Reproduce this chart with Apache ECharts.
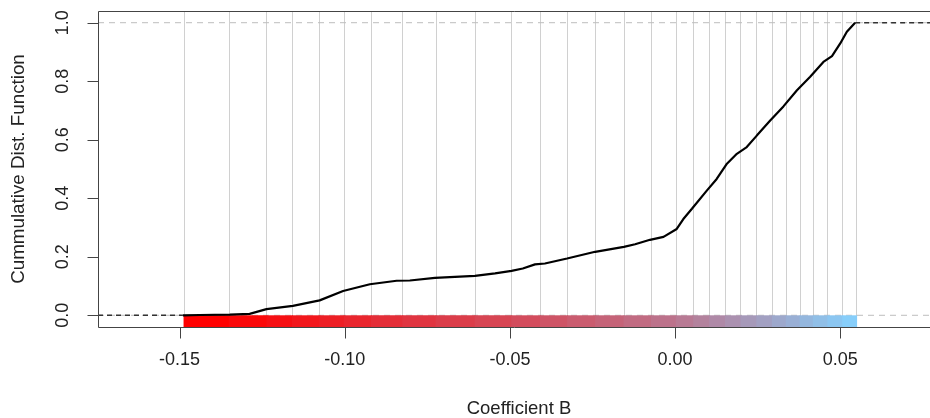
<!DOCTYPE html>
<html>
<head>
<meta charset="utf-8">
<script src="https://cdn.jsdelivr.net/npm/echarts@6/dist/echarts.min.js"></script>
<style>
html, body { margin: 0; padding: 0; background: #fff; }
#main { width: 930px; height: 418px; }
</style>
</head>
<body>
<div id="main"></div>
<script>
// ecdf curve
var cdfX = [-0.1490, -0.1439, -0.1348, -0.1288, -0.1237, -0.1157, -0.1076, -0.1005, -0.0924, -0.0843,
	-0.0803, -0.0727, -0.0606, -0.0545, -0.0495, -0.0461, -0.0424, -0.0394, -0.0327, -0.0242,
	-0.0155, -0.0121, -0.0076, -0.0035, 0.0005, 0.0025, 0.0051, 0.0096, 0.0126, 0.0157,
	0.0187, 0.0217, 0.0248, 0.0288, 0.0328, 0.0369, 0.0409, 0.0449, 0.0475, 0.0500,
	0.0520, 0.0545];
var cdfY = [0.000, 0.001, 0.002, 0.005, 0.021, 0.032, 0.051, 0.083, 0.106, 0.118,
	0.119, 0.128, 0.135, 0.143, 0.152, 0.160, 0.174, 0.177, 0.194, 0.217,
	0.234, 0.243, 0.258, 0.268, 0.295, 0.329, 0.364, 0.426, 0.466, 0.518,
	0.552, 0.575, 0.615, 0.666, 0.714, 0.769, 0.815, 0.866, 0.886, 0.929,
	0.969, 1.000];

// breaks of the coloured strip (also the grey vertical lines)
var breaks = [-0.1488, -0.1351, -0.1237, -0.1160, -0.1077, -0.1003, -0.0921, -0.0826, -0.0725, -0.0607,
	-0.0496, -0.0409, -0.0327, -0.0242, -0.0156, -0.0073, 0.0002, 0.0055, 0.0103, 0.0151,
	0.0198, 0.0246, 0.0293, 0.0335, 0.0377, 0.0417, 0.0461, 0.0506, 0.0548];

var xTicks = [-0.15, -0.10, -0.05, 0.00, 0.05];
var yTicks = [0.0, 0.2, 0.4, 0.6, 0.8, 1.0];
// plot box (R usr coordinates)
var xRange = [-0.1747, 0.0802];
var yRange = [-0.04, 1.04];

var font = 'Liberation Sans, Arial, sans-serif';
var tickLen = 11;
// box size in px, the grid gets tickLen extra on the left and bottom so ticks sit inside it
var boxW = 842, boxH = 316;
var xMinAxis = xRange[0] - tickLen * (xRange[1] - xRange[0]) / boxW;
var yMinAxis = yRange[0] - tickLen * (yRange[1] - yRange[0]) / boxH;

// red -> lightskyblue
function rampColor(i, n) {
	var t = n > 1 ? i / (n - 1) : 0;
	var a = [255, 0, 0], b = [135, 206, 250];
	var c = a.map(function (v, k) { return Math.round(v + (b[k] - v) * t); });
	return 'rgb(' + c.join(',') + ')';
}

var segs = [];
for (var i = 0; i < breaks.length - 1; i++) {
	segs.push([breaks[i], breaks[i + 1], i]);
}

var curve = cdfX.map(function (x, i) { return [x, cdfY[i]]; });

// tick marks: [x, y, which]  (0 = bottom axis, 1 = left axis)
var tickData = xTicks.map(function (v) { return [v, yRange[0], 0]; })
	.concat(yTicks.map(function (v) { return [xRange[0], v, 1]; }));

var myChart = echarts.init(document.getElementById('main'));
var option = {
	backgroundColor: '#ffffff',
	animation: false,
	grid: {
		left: 98 - tickLen, top: 11, right: -10, bottom: 91 - tickLen,
		outerBoundsMode: 'none',
		containLabel: false,
		show: false
	},
	xAxis: {
		type: 'value',
		position: 'bottom',
		min: xMinAxis, max: xRange[1],
		name: 'Coefficient B',
		nameLocation: 'middle',
		nameGap: 61,
		nameTextStyle: { color: '#222', fontSize: 18.5, fontFamily: font, padding: [0, 0, 0, 11] },
		axisLine: { show: false, onZero: false },
		splitLine: { show: false },
		axisTick: { show: false },
		axisLabel: {
			customValues: xTicks, margin: 13, color: '#222', fontSize: 18, fontFamily: font,
			formatter: function (v) { return v.toFixed(2); }
		}
	},
	yAxis: {
		type: 'value',
		position: 'left',
		min: yMinAxis, max: yRange[1],
		name: 'Cummulative Dist. Function',
		nameLocation: 'middle',
		nameRotate: 90,
		nameGap: 59,
		nameTextStyle: { color: '#222', fontSize: 18.8, fontFamily: font, padding: [0, 0, 0, 11] },
		axisLine: { show: false, onZero: false },
		splitLine: { show: false },
		axisTick: { show: false },
		axisLabel: {
			customValues: yTicks, rotate: 90, margin: 15, color: '#222', fontSize: 18, fontFamily: font,
			formatter: function (v) { return v.toFixed(1); }
		}
	},
	series: [
		{
			// grey vertical lines at the breaks
			type: 'custom',
			z: 1,
			silent: true,
			data: breaks.map(function (b) { return [b, 0.5]; }),
			renderItem: function (params, api) {
				var p0 = api.coord([api.value(0), yRange[1]]);
				var p1 = api.coord([api.value(0), yRange[0]]);
				var x = Math.round(p0[0]) + 0.5;
				return {
					type: 'line',
					shape: { x1: x, y1: p0[1], x2: x, y2: p1[1] },
					style: { stroke: '#d0d0d0', lineWidth: 1 }
				};
			}
		},
		{
			// dashed 0 / 1 reference lines across the box
			type: 'line',
			z: 2,
			silent: true,
			data: [[xRange[0], 0], [xRange[1], 0], null, [xRange[0], 1], [xRange[1], 1]],
			connectNulls: false,
			symbol: 'none',
			lineStyle: { color: '#bdbdbd', width: 1, type: [6, 5] }
		},
		{
			type: 'custom',
			z: 3,
			silent: true,
			data: segs,
			renderItem: function (params, api) {
				var p0 = api.coord([api.value(0), 0]);
				var p1 = api.coord([api.value(1), yRange[0]]);
				return {
					type: 'rect',
					shape: { x: p0[0], y: p0[1], width: p1[0] - p0[0] + 1, height: p1[1] - p0[1] },
					style: { fill: rampColor(api.value(2), segs.length), stroke: null }
				};
			}
		},
		{
			type: 'line',
			z: 4,
			data: [[xRange[0], 0], [cdfX[0], 0]],
			symbol: 'none',
			lineStyle: { color: '#333', width: 1.5, type: [5, 4] }
		},
		{
			type: 'line',
			z: 4,
			data: [[cdfX[cdfX.length - 1], 1], [xRange[1], 1]],
			symbol: 'none',
			lineStyle: { color: '#333', width: 1.5, type: [5, 4] }
		},
		{
			type: 'line',
			z: 5,
			data: curve,
			symbol: 'none',
			lineStyle: { color: '#000', width: 2.2 }
		},
		{
			// plot box
			type: 'custom',
			z: 6,
			silent: true,
			data: [[xRange[0], yRange[0]]],
			renderItem: function (params, api) {
				var a = api.coord([xRange[0], yRange[1]]);
				var b = api.coord([xRange[1], yRange[0]]);
				var x0 = Math.round(a[0]) + 0.5, y0 = Math.round(a[1]) + 0.5;
				var x1 = Math.round(b[0]) + 0.5, y1 = Math.round(b[1]) + 0.5;
				return {
					type: 'rect',
					shape: { x: x0, y: y0, width: x1 - x0, height: y1 - y0 },
					style: { fill: null, stroke: '#444', lineWidth: 1 }
				};
			}
		},
		{
			// R style outside ticks (inside the padded grid)
			type: 'custom',
			z: 6,
			silent: true,
			data: tickData,
			renderItem: function (params, api) {
				var p = api.coord([api.value(0), api.value(1)]);
				var shape;
				if (api.value(2) === 0) {
					var x = Math.round(p[0]) + 0.5;
					var yb = Math.round(p[1]) + 0.5;
					shape = { x1: x, y1: yb, x2: x, y2: yb + tickLen };
				} else {
					var y = Math.round(p[1]) + 0.5;
					var xl = Math.round(p[0]) + 0.5;
					shape = { x1: xl, y1: y, x2: xl - tickLen, y2: y };
				}
				return { type: 'line', shape: shape, style: { stroke: '#444', lineWidth: 1 } };
			}
		}
	]
};
myChart.setOption(option);
</script>
</body>
</html>
